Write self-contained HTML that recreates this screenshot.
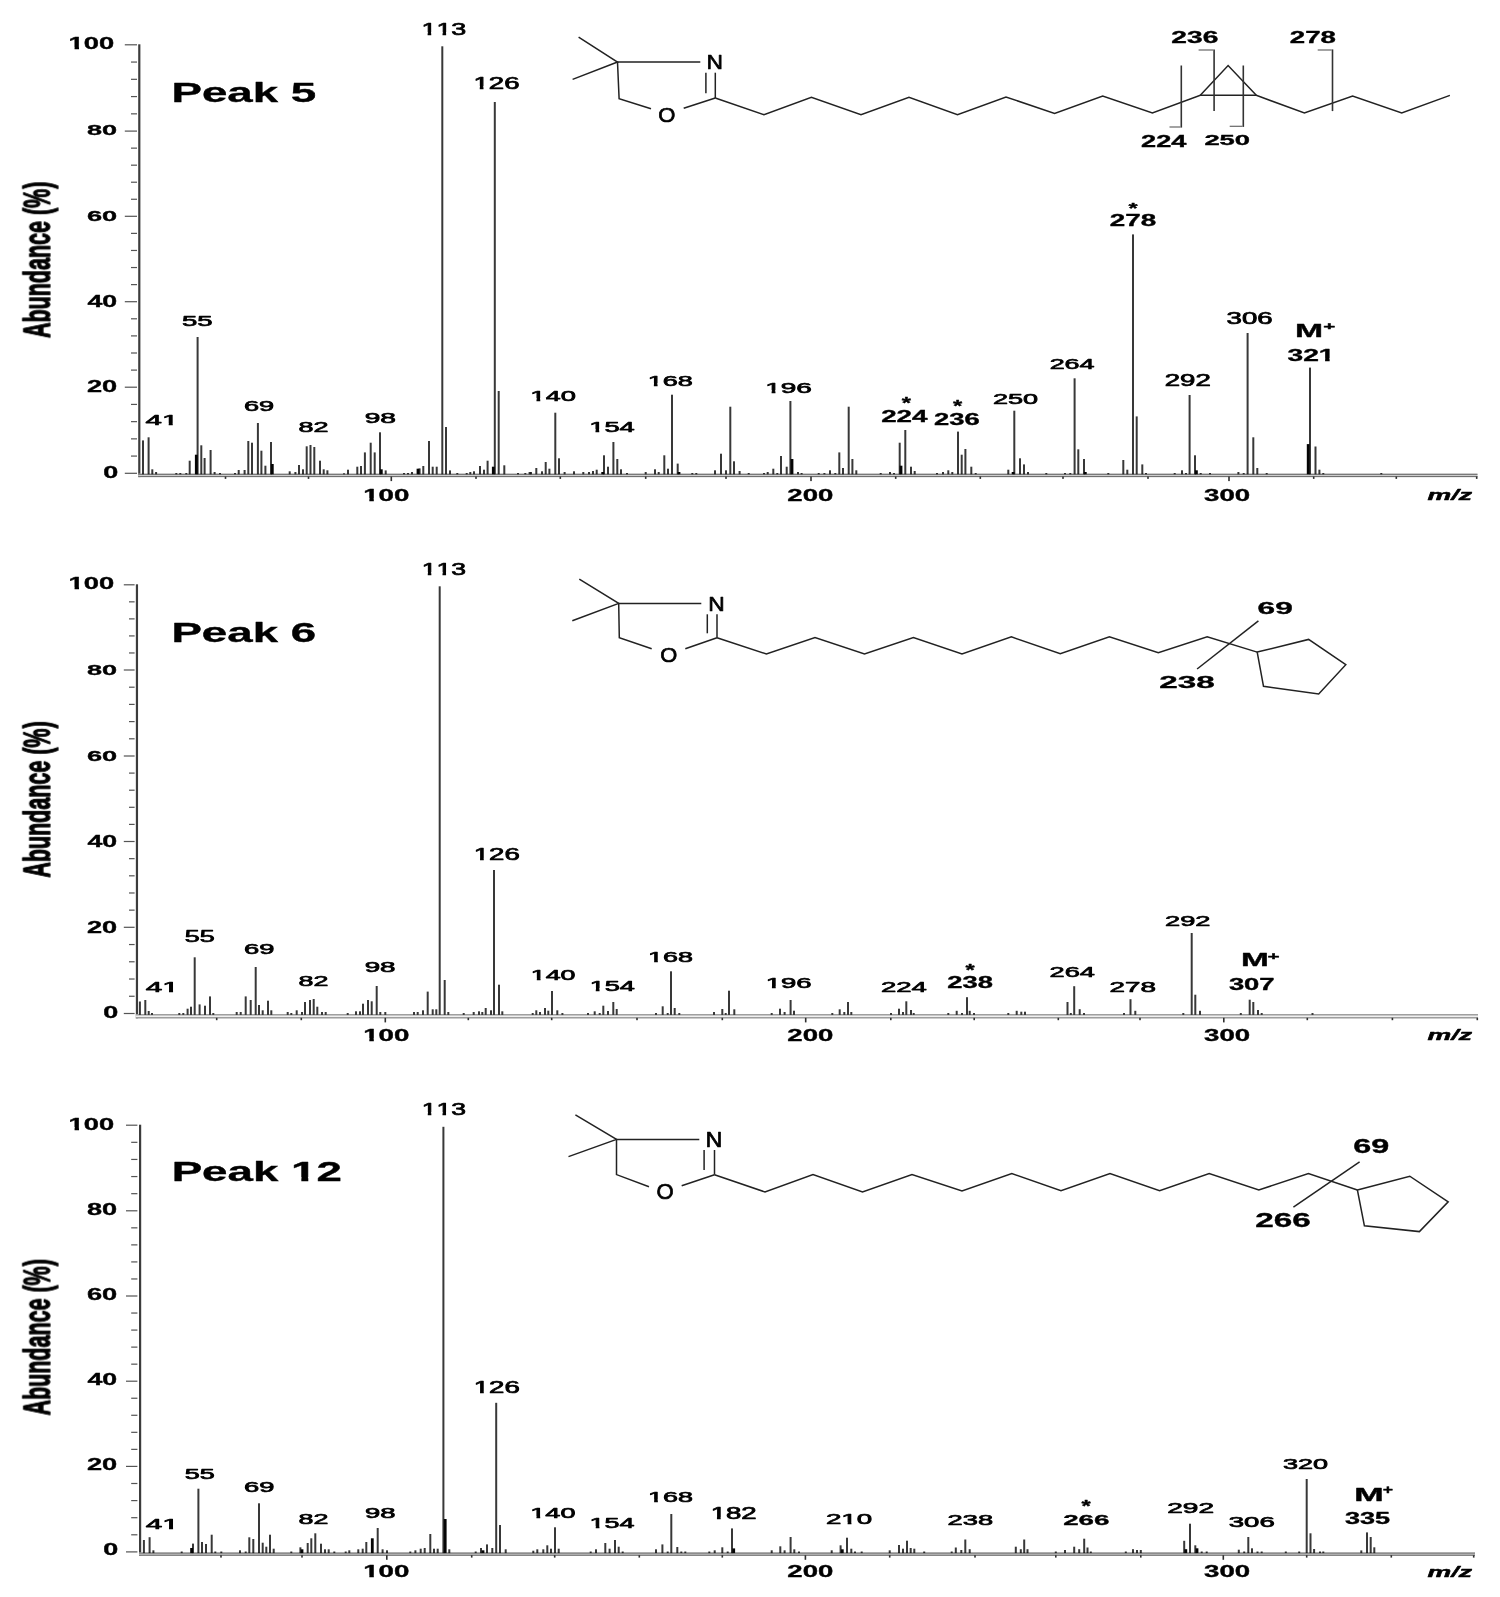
<!DOCTYPE html>
<html><head><meta charset="utf-8"><style>
html,body{margin:0;padding:0;background:#fff;overflow:hidden;width:1500px;height:1597px;}
svg{display:block;}
text{font-family:"Liberation Sans",sans-serif;fill:#000;stroke:#000;stroke-linejoin:round;}
</style></head><body>
<svg width="1500" height="1597" viewBox="0 0 1500 1597">
<rect width="1500" height="1597" fill="#fff"/>
<rect x="124.8" y="44.2" width="12.2" height="1.2" fill="#555"/>
<rect x="131" y="61.46" width="6" height="1.2" fill="#555"/>
<rect x="131" y="78.72" width="6" height="1.2" fill="#555"/>
<rect x="131" y="95.98" width="6" height="1.2" fill="#555"/>
<rect x="131" y="113.24" width="6" height="1.2" fill="#555"/>
<rect x="124.8" y="130.5" width="12.2" height="1.2" fill="#555"/>
<rect x="131" y="147.54" width="6" height="1.2" fill="#555"/>
<rect x="131" y="164.58" width="6" height="1.2" fill="#555"/>
<rect x="131" y="181.62" width="6" height="1.2" fill="#555"/>
<rect x="131" y="198.66" width="6" height="1.2" fill="#555"/>
<rect x="124.8" y="215.7" width="12.2" height="1.2" fill="#555"/>
<rect x="131" y="232.78" width="6" height="1.2" fill="#555"/>
<rect x="131" y="249.86" width="6" height="1.2" fill="#555"/>
<rect x="131" y="266.94" width="6" height="1.2" fill="#555"/>
<rect x="131" y="284.02" width="6" height="1.2" fill="#555"/>
<rect x="124.8" y="301.1" width="12.2" height="1.2" fill="#555"/>
<rect x="131" y="318.2" width="6" height="1.2" fill="#555"/>
<rect x="131" y="335.3" width="6" height="1.2" fill="#555"/>
<rect x="131" y="352.4" width="6" height="1.2" fill="#555"/>
<rect x="131" y="369.5" width="6" height="1.2" fill="#555"/>
<rect x="124.8" y="386.6" width="12.2" height="1.2" fill="#555"/>
<rect x="131" y="403.82" width="6" height="1.2" fill="#555"/>
<rect x="131" y="421.04" width="6" height="1.2" fill="#555"/>
<rect x="131" y="438.26" width="6" height="1.2" fill="#555"/>
<rect x="131" y="455.48" width="6" height="1.2" fill="#555"/>
<rect x="124.8" y="472.7" width="12.2" height="1.2" fill="#555"/>
<rect x="138.2" y="44.3" width="2.2" height="432.8" fill="#3c3c3c"/>
<rect x="138.2" y="473.7" width="1339.3" height="3.4" fill="#d8d8d8"/>
<rect x="138.2" y="473.7" width="1339.3" height="1.2" fill="#707070"/>
<rect x="138.2" y="475.9" width="1339.3" height="1.2" fill="#707070"/>
<rect x="224.7" y="476.5" width="1.6" height="2.4" fill="#303030"/>
<rect x="307.7" y="476.5" width="1.6" height="2.4" fill="#303030"/>
<rect x="390.5" y="476.5" width="1.6" height="4.6" fill="#303030"/>
<rect x="475.2" y="476.5" width="1.6" height="2.4" fill="#303030"/>
<rect x="559.5" y="476.5" width="1.6" height="2.4" fill="#303030"/>
<rect x="644.9" y="476.5" width="1.6" height="2.4" fill="#303030"/>
<rect x="725.2" y="476.5" width="1.6" height="2.4" fill="#303030"/>
<rect x="810.2" y="476.5" width="1.6" height="4.6" fill="#303030"/>
<rect x="894.9" y="476.5" width="1.6" height="2.4" fill="#303030"/>
<rect x="979.5" y="476.5" width="1.6" height="2.4" fill="#303030"/>
<rect x="1062.2" y="476.5" width="1.6" height="2.4" fill="#303030"/>
<rect x="1147.2" y="476.5" width="1.6" height="2.4" fill="#303030"/>
<rect x="1228.2" y="476.5" width="1.6" height="4.6" fill="#303030"/>
<rect x="1312.9" y="476.5" width="1.6" height="2.4" fill="#303030"/>
<rect x="1395.5" y="476.5" width="1.6" height="2.4" fill="#303030"/>
<rect x="1475.9" y="476.5" width="1.6" height="2.4" fill="#303030"/>
<rect x="142" y="440.4" width="2" height="33.9" fill="#000" fill-opacity="0.78"/>
<rect x="147.6" y="437.3" width="2" height="37" fill="#000" fill-opacity="0.78"/>
<rect x="151.3" y="469.3" width="2" height="5" fill="#000" fill-opacity="0.78"/>
<rect x="155.1" y="472" width="2" height="2.3" fill="#000" fill-opacity="0.78"/>
<rect x="175.3" y="473" width="2" height="1.3" fill="#000" fill-opacity="0.78"/>
<rect x="179.3" y="473" width="2" height="1.3" fill="#000" fill-opacity="0.78"/>
<rect x="185.3" y="473" width="2" height="1.3" fill="#000" fill-opacity="0.78"/>
<rect x="188.7" y="460.7" width="2" height="13.6" fill="#000" fill-opacity="0.78"/>
<rect x="194.9" y="454.7" width="2.8" height="19.6" fill="#050505"/>
<rect x="196.6" y="337" width="2" height="137.3" fill="#000" fill-opacity="0.78"/>
<rect x="200.3" y="445.3" width="2" height="29" fill="#000" fill-opacity="0.78"/>
<rect x="203.6" y="458" width="2" height="16.3" fill="#000" fill-opacity="0.78"/>
<rect x="209.6" y="450" width="2" height="24.3" fill="#000" fill-opacity="0.78"/>
<rect x="213.6" y="472" width="2" height="2.3" fill="#000" fill-opacity="0.78"/>
<rect x="219" y="473" width="2" height="1.3" fill="#000" fill-opacity="0.78"/>
<rect x="234" y="473" width="2" height="1.3" fill="#000" fill-opacity="0.78"/>
<rect x="237.7" y="470" width="2" height="4.3" fill="#000" fill-opacity="0.78"/>
<rect x="243.6" y="470" width="2" height="4.3" fill="#000" fill-opacity="0.78"/>
<rect x="247.3" y="441" width="2" height="33.3" fill="#000" fill-opacity="0.78"/>
<rect x="251" y="442.7" width="2" height="31.6" fill="#000" fill-opacity="0.78"/>
<rect x="256.9" y="423" width="2" height="51.3" fill="#000" fill-opacity="0.78"/>
<rect x="260.4" y="450.7" width="2" height="23.6" fill="#000" fill-opacity="0.78"/>
<rect x="264.4" y="465.7" width="2" height="8.6" fill="#000" fill-opacity="0.78"/>
<rect x="270" y="442" width="2" height="32.3" fill="#000" fill-opacity="0.78"/>
<rect x="270.9" y="464" width="2.8" height="10.3" fill="#050505"/>
<rect x="288.7" y="471.3" width="2" height="3" fill="#000" fill-opacity="0.78"/>
<rect x="294.4" y="472" width="2" height="2.3" fill="#000" fill-opacity="0.78"/>
<rect x="298" y="465" width="2" height="9.3" fill="#000" fill-opacity="0.78"/>
<rect x="302" y="469.3" width="2" height="5" fill="#000" fill-opacity="0.78"/>
<rect x="305.7" y="446.3" width="2" height="28" fill="#000" fill-opacity="0.78"/>
<rect x="309.5" y="445" width="2" height="29.3" fill="#000" fill-opacity="0.78"/>
<rect x="313.3" y="447" width="2" height="27.3" fill="#000" fill-opacity="0.78"/>
<rect x="319" y="460.7" width="2" height="13.6" fill="#000" fill-opacity="0.78"/>
<rect x="322.7" y="469.3" width="2" height="5" fill="#000" fill-opacity="0.78"/>
<rect x="326.4" y="470.3" width="2" height="4" fill="#000" fill-opacity="0.78"/>
<rect x="343" y="473.3" width="2" height="1" fill="#000" fill-opacity="0.78"/>
<rect x="347" y="469.7" width="2" height="4.6" fill="#000" fill-opacity="0.78"/>
<rect x="356.3" y="466.7" width="2" height="7.6" fill="#000" fill-opacity="0.78"/>
<rect x="360" y="466" width="2" height="8.3" fill="#000" fill-opacity="0.78"/>
<rect x="363.9" y="452.4" width="2" height="21.9" fill="#000" fill-opacity="0.78"/>
<rect x="369.7" y="442.7" width="2" height="31.6" fill="#000" fill-opacity="0.78"/>
<rect x="373.7" y="452.4" width="2" height="21.9" fill="#000" fill-opacity="0.78"/>
<rect x="379" y="432.3" width="2" height="42" fill="#000" fill-opacity="0.78"/>
<rect x="379.9" y="469.3" width="2.8" height="5" fill="#050505"/>
<rect x="384.7" y="470.4" width="2" height="3.9" fill="#000" fill-opacity="0.78"/>
<rect x="403" y="473" width="2" height="1.3" fill="#000" fill-opacity="0.78"/>
<rect x="407" y="473" width="2" height="1.3" fill="#000" fill-opacity="0.78"/>
<rect x="411" y="472" width="2" height="2.3" fill="#000" fill-opacity="0.78"/>
<rect x="416.6" y="468.7" width="2.8" height="5.6" fill="#050505"/>
<rect x="418.6" y="468.4" width="2" height="5.9" fill="#000" fill-opacity="0.78"/>
<rect x="422.3" y="466" width="2" height="8.3" fill="#000" fill-opacity="0.78"/>
<rect x="428" y="441" width="2" height="33.3" fill="#000" fill-opacity="0.78"/>
<rect x="431.7" y="466.7" width="2" height="7.6" fill="#000" fill-opacity="0.78"/>
<rect x="435.7" y="466.7" width="2" height="7.6" fill="#000" fill-opacity="0.78"/>
<rect x="441.3" y="46.3" width="2" height="428" fill="#000" fill-opacity="0.78"/>
<rect x="445" y="427" width="2" height="47.3" fill="#000" fill-opacity="0.78"/>
<rect x="449" y="470.4" width="2" height="3.9" fill="#000" fill-opacity="0.78"/>
<rect x="456.3" y="473" width="2" height="1.3" fill="#000" fill-opacity="0.78"/>
<rect x="465.7" y="473" width="2" height="1.3" fill="#000" fill-opacity="0.78"/>
<rect x="469.3" y="472" width="2" height="2.3" fill="#000" fill-opacity="0.78"/>
<rect x="473" y="471.3" width="2" height="3" fill="#000" fill-opacity="0.78"/>
<rect x="479" y="466" width="2" height="8.3" fill="#000" fill-opacity="0.78"/>
<rect x="483" y="469.7" width="2" height="4.6" fill="#000" fill-opacity="0.78"/>
<rect x="486.6" y="460.7" width="2" height="13.6" fill="#000" fill-opacity="0.78"/>
<rect x="491.9" y="466.7" width="2.8" height="7.6" fill="#050505"/>
<rect x="493.8" y="102" width="2" height="372.3" fill="#000" fill-opacity="0.78"/>
<rect x="497.7" y="391" width="2" height="83.3" fill="#000" fill-opacity="0.78"/>
<rect x="503.3" y="465.3" width="2" height="9" fill="#000" fill-opacity="0.78"/>
<rect x="517" y="473" width="2" height="1.3" fill="#000" fill-opacity="0.78"/>
<rect x="524.3" y="473" width="2" height="1.3" fill="#000" fill-opacity="0.78"/>
<rect x="528.6" y="472" width="2" height="2.3" fill="#000" fill-opacity="0.78"/>
<rect x="530" y="472" width="2" height="2.3" fill="#000" fill-opacity="0.78"/>
<rect x="535.3" y="468" width="2" height="6.3" fill="#000" fill-opacity="0.78"/>
<rect x="541" y="471.3" width="2" height="3" fill="#000" fill-opacity="0.78"/>
<rect x="544.7" y="462" width="2" height="12.3" fill="#000" fill-opacity="0.78"/>
<rect x="548.4" y="468.7" width="2" height="5.6" fill="#000" fill-opacity="0.78"/>
<rect x="554.3" y="412.7" width="2" height="61.6" fill="#000" fill-opacity="0.78"/>
<rect x="558" y="458.3" width="2" height="16" fill="#000" fill-opacity="0.78"/>
<rect x="563.6" y="472" width="2" height="2.3" fill="#000" fill-opacity="0.78"/>
<rect x="573" y="471.3" width="2" height="3" fill="#000" fill-opacity="0.78"/>
<rect x="582.3" y="472" width="2" height="2.3" fill="#000" fill-opacity="0.78"/>
<rect x="588" y="472" width="2" height="2.3" fill="#000" fill-opacity="0.78"/>
<rect x="592" y="471" width="2" height="3.3" fill="#000" fill-opacity="0.78"/>
<rect x="595.7" y="469.7" width="2" height="4.6" fill="#000" fill-opacity="0.78"/>
<rect x="601.3" y="472" width="2.8" height="2.3" fill="#050505"/>
<rect x="603" y="455.3" width="2" height="19" fill="#000" fill-opacity="0.78"/>
<rect x="607" y="466.7" width="2" height="7.6" fill="#000" fill-opacity="0.78"/>
<rect x="612.4" y="442" width="2" height="32.3" fill="#000" fill-opacity="0.78"/>
<rect x="616.3" y="459" width="2" height="15.3" fill="#000" fill-opacity="0.78"/>
<rect x="620" y="469.3" width="2" height="5" fill="#000" fill-opacity="0.78"/>
<rect x="626" y="473" width="2" height="1.3" fill="#000" fill-opacity="0.78"/>
<rect x="644.7" y="472" width="2" height="2.3" fill="#000" fill-opacity="0.78"/>
<rect x="654" y="469.3" width="2" height="5" fill="#000" fill-opacity="0.78"/>
<rect x="657.7" y="472" width="2" height="2.3" fill="#000" fill-opacity="0.78"/>
<rect x="663.3" y="455.3" width="2" height="19" fill="#000" fill-opacity="0.78"/>
<rect x="667" y="468.7" width="2" height="5.6" fill="#000" fill-opacity="0.78"/>
<rect x="671" y="394.7" width="2" height="79.6" fill="#000" fill-opacity="0.78"/>
<rect x="676.7" y="463.6" width="2" height="10.7" fill="#000" fill-opacity="0.78"/>
<rect x="677.6" y="472" width="2.8" height="2.3" fill="#050505"/>
<rect x="691.3" y="473" width="2" height="1.3" fill="#000" fill-opacity="0.78"/>
<rect x="695.3" y="473" width="2" height="1.3" fill="#000" fill-opacity="0.78"/>
<rect x="714" y="470.3" width="2" height="4" fill="#000" fill-opacity="0.78"/>
<rect x="720" y="453.7" width="2" height="20.6" fill="#000" fill-opacity="0.78"/>
<rect x="725" y="470.3" width="2" height="4" fill="#000" fill-opacity="0.78"/>
<rect x="729.3" y="406.7" width="2" height="67.6" fill="#000" fill-opacity="0.78"/>
<rect x="733" y="461.3" width="2" height="13" fill="#000" fill-opacity="0.78"/>
<rect x="738.6" y="471" width="2" height="3.3" fill="#000" fill-opacity="0.78"/>
<rect x="747.7" y="473" width="2" height="1.3" fill="#000" fill-opacity="0.78"/>
<rect x="763" y="473" width="2" height="1.3" fill="#000" fill-opacity="0.78"/>
<rect x="766.7" y="472" width="2" height="2.3" fill="#000" fill-opacity="0.78"/>
<rect x="772.3" y="468.7" width="2" height="5.6" fill="#000" fill-opacity="0.78"/>
<rect x="776.3" y="473" width="2" height="1.3" fill="#000" fill-opacity="0.78"/>
<rect x="780" y="456" width="2" height="18.3" fill="#000" fill-opacity="0.78"/>
<rect x="785.7" y="466.7" width="2" height="7.6" fill="#000" fill-opacity="0.78"/>
<rect x="789.4" y="401" width="2" height="73.3" fill="#000" fill-opacity="0.78"/>
<rect x="790.6" y="459" width="2.8" height="15.3" fill="#050505"/>
<rect x="797" y="472" width="2" height="2.3" fill="#000" fill-opacity="0.78"/>
<rect x="800.6" y="473" width="2" height="1.3" fill="#000" fill-opacity="0.78"/>
<rect x="817.7" y="473" width="2" height="1.3" fill="#000" fill-opacity="0.78"/>
<rect x="823.4" y="473" width="2" height="1.3" fill="#000" fill-opacity="0.78"/>
<rect x="829" y="470.3" width="2" height="4" fill="#000" fill-opacity="0.78"/>
<rect x="834.3" y="473" width="2" height="1.3" fill="#000" fill-opacity="0.78"/>
<rect x="838.3" y="452.4" width="2" height="21.9" fill="#000" fill-opacity="0.78"/>
<rect x="842" y="468" width="2" height="6.3" fill="#000" fill-opacity="0.78"/>
<rect x="847.7" y="406.7" width="2" height="67.6" fill="#000" fill-opacity="0.78"/>
<rect x="851.4" y="459" width="2" height="15.3" fill="#000" fill-opacity="0.78"/>
<rect x="855.3" y="470.3" width="2" height="4" fill="#000" fill-opacity="0.78"/>
<rect x="879.7" y="473" width="2" height="1.3" fill="#000" fill-opacity="0.78"/>
<rect x="889" y="472" width="2" height="2.3" fill="#000" fill-opacity="0.78"/>
<rect x="893" y="473" width="2" height="1.3" fill="#000" fill-opacity="0.78"/>
<rect x="898.7" y="442.7" width="2" height="31.6" fill="#000" fill-opacity="0.78"/>
<rect x="899.6" y="465.7" width="2.8" height="8.6" fill="#050505"/>
<rect x="904.3" y="430" width="2" height="44.3" fill="#000" fill-opacity="0.78"/>
<rect x="910" y="466.7" width="2" height="7.6" fill="#000" fill-opacity="0.78"/>
<rect x="913.7" y="471" width="2" height="3.3" fill="#000" fill-opacity="0.78"/>
<rect x="936" y="473" width="2" height="1.3" fill="#000" fill-opacity="0.78"/>
<rect x="942" y="472" width="2" height="2.3" fill="#000" fill-opacity="0.78"/>
<rect x="947.3" y="470.3" width="2" height="4" fill="#000" fill-opacity="0.78"/>
<rect x="951.3" y="472" width="2" height="2.3" fill="#000" fill-opacity="0.78"/>
<rect x="957" y="431.6" width="2" height="42.7" fill="#000" fill-opacity="0.78"/>
<rect x="960.7" y="454.7" width="2" height="19.6" fill="#000" fill-opacity="0.78"/>
<rect x="964.4" y="449" width="2" height="25.3" fill="#000" fill-opacity="0.78"/>
<rect x="970.3" y="466.7" width="2" height="7.6" fill="#000" fill-opacity="0.78"/>
<rect x="974.7" y="473" width="2" height="1.3" fill="#000" fill-opacity="0.78"/>
<rect x="1007.3" y="469.7" width="2" height="4.6" fill="#000" fill-opacity="0.78"/>
<rect x="1011.7" y="472" width="2.8" height="2.3" fill="#050505"/>
<rect x="1013.3" y="410.7" width="2" height="63.6" fill="#000" fill-opacity="0.78"/>
<rect x="1019" y="458.3" width="2" height="16" fill="#000" fill-opacity="0.78"/>
<rect x="1023" y="464.4" width="2" height="9.9" fill="#000" fill-opacity="0.78"/>
<rect x="1027" y="472" width="2" height="2.3" fill="#000" fill-opacity="0.78"/>
<rect x="1045.3" y="473" width="2" height="1.3" fill="#000" fill-opacity="0.78"/>
<rect x="1064" y="473" width="2" height="1.3" fill="#000" fill-opacity="0.78"/>
<rect x="1069.3" y="473" width="2" height="1.3" fill="#000" fill-opacity="0.78"/>
<rect x="1073.6" y="378.3" width="2" height="96" fill="#000" fill-opacity="0.78"/>
<rect x="1077.3" y="449.3" width="2" height="25" fill="#000" fill-opacity="0.78"/>
<rect x="1083" y="459" width="2" height="15.3" fill="#000" fill-opacity="0.78"/>
<rect x="1083.9" y="472" width="2.8" height="2.3" fill="#050505"/>
<rect x="1107.3" y="473" width="2" height="1.3" fill="#000" fill-opacity="0.78"/>
<rect x="1122.3" y="460" width="2" height="14.3" fill="#000" fill-opacity="0.78"/>
<rect x="1126.3" y="469.7" width="2" height="4.6" fill="#000" fill-opacity="0.78"/>
<rect x="1132" y="234.4" width="2" height="239.9" fill="#000" fill-opacity="0.78"/>
<rect x="1135.7" y="416.4" width="2" height="57.9" fill="#000" fill-opacity="0.78"/>
<rect x="1141.3" y="464.4" width="2" height="9.9" fill="#000" fill-opacity="0.78"/>
<rect x="1145" y="473" width="2" height="1.3" fill="#000" fill-opacity="0.78"/>
<rect x="1173.7" y="473" width="2" height="1.3" fill="#000" fill-opacity="0.78"/>
<rect x="1181" y="470.3" width="2" height="4" fill="#000" fill-opacity="0.78"/>
<rect x="1185" y="473" width="2" height="1.3" fill="#000" fill-opacity="0.78"/>
<rect x="1188.6" y="395" width="2" height="79.3" fill="#000" fill-opacity="0.78"/>
<rect x="1194" y="455.3" width="2" height="19" fill="#000" fill-opacity="0.78"/>
<rect x="1195" y="470.3" width="2.8" height="4" fill="#050505"/>
<rect x="1199.7" y="473" width="2" height="1.3" fill="#000" fill-opacity="0.78"/>
<rect x="1209" y="473" width="2" height="1.3" fill="#000" fill-opacity="0.78"/>
<rect x="1237.4" y="472" width="2" height="2.3" fill="#000" fill-opacity="0.78"/>
<rect x="1242.7" y="473" width="2" height="1.3" fill="#000" fill-opacity="0.78"/>
<rect x="1246.6" y="333" width="2" height="141.3" fill="#000" fill-opacity="0.78"/>
<rect x="1252.3" y="437.3" width="2" height="37" fill="#000" fill-opacity="0.78"/>
<rect x="1256.3" y="468" width="2" height="6.3" fill="#000" fill-opacity="0.78"/>
<rect x="1265.7" y="473" width="2" height="1.3" fill="#000" fill-opacity="0.78"/>
<rect x="1306.8" y="444.1" width="2.8" height="30.2" fill="#050505"/>
<rect x="1309" y="367.6" width="2" height="106.7" fill="#000" fill-opacity="0.78"/>
<rect x="1314.5" y="446.5" width="2" height="27.8" fill="#000" fill-opacity="0.78"/>
<rect x="1318.4" y="469.7" width="2" height="4.6" fill="#000" fill-opacity="0.78"/>
<rect x="1322.3" y="473" width="2" height="1.3" fill="#000" fill-opacity="0.78"/>
<rect x="1380.3" y="473" width="2" height="1.3" fill="#000" fill-opacity="0.78"/>
<rect x="123.8" y="584.2" width="10.8" height="1.2" fill="#555"/>
<rect x="129" y="601.24" width="5.6" height="1.2" fill="#555"/>
<rect x="129" y="618.28" width="5.6" height="1.2" fill="#555"/>
<rect x="129" y="635.32" width="5.6" height="1.2" fill="#555"/>
<rect x="129" y="652.36" width="5.6" height="1.2" fill="#555"/>
<rect x="123.8" y="669.4" width="10.8" height="1.2" fill="#555"/>
<rect x="129" y="686.6" width="5.6" height="1.2" fill="#555"/>
<rect x="129" y="703.8" width="5.6" height="1.2" fill="#555"/>
<rect x="129" y="721" width="5.6" height="1.2" fill="#555"/>
<rect x="129" y="738.2" width="5.6" height="1.2" fill="#555"/>
<rect x="123.8" y="755.4" width="10.8" height="1.2" fill="#555"/>
<rect x="129" y="772.5" width="5.6" height="1.2" fill="#555"/>
<rect x="129" y="789.6" width="5.6" height="1.2" fill="#555"/>
<rect x="129" y="806.7" width="5.6" height="1.2" fill="#555"/>
<rect x="129" y="823.8" width="5.6" height="1.2" fill="#555"/>
<rect x="123.8" y="840.9" width="10.8" height="1.2" fill="#555"/>
<rect x="129" y="858.06" width="5.6" height="1.2" fill="#555"/>
<rect x="129" y="875.22" width="5.6" height="1.2" fill="#555"/>
<rect x="129" y="892.38" width="5.6" height="1.2" fill="#555"/>
<rect x="129" y="909.54" width="5.6" height="1.2" fill="#555"/>
<rect x="123.8" y="926.7" width="10.8" height="1.2" fill="#555"/>
<rect x="129" y="943.94" width="5.6" height="1.2" fill="#555"/>
<rect x="129" y="961.18" width="5.6" height="1.2" fill="#555"/>
<rect x="129" y="978.42" width="5.6" height="1.2" fill="#555"/>
<rect x="129" y="995.66" width="5.6" height="1.2" fill="#555"/>
<rect x="123.8" y="1012.9" width="10.8" height="1.2" fill="#555"/>
<rect x="135.85" y="584.3" width="2.2" height="434.1" fill="#3c3c3c"/>
<rect x="135.85" y="1014.2" width="1342.15" height="4.2" fill="#f0f0f0"/>
<rect x="135.85" y="1014.2" width="1342.15" height="1.2" fill="#8a8a8a"/>
<rect x="135.85" y="1017.2" width="1342.15" height="1.2" fill="#8a8a8a"/>
<rect x="215.9" y="1017.8" width="1.6" height="2.4" fill="#303030"/>
<rect x="300.5" y="1017.8" width="1.6" height="2.4" fill="#303030"/>
<rect x="384.5" y="1017.8" width="1.6" height="4.6" fill="#303030"/>
<rect x="467.5" y="1017.8" width="1.6" height="2.4" fill="#303030"/>
<rect x="550.9" y="1017.8" width="1.6" height="2.4" fill="#303030"/>
<rect x="636.2" y="1017.8" width="1.6" height="2.4" fill="#303030"/>
<rect x="721.5" y="1017.8" width="1.6" height="2.4" fill="#303030"/>
<rect x="804.9" y="1017.8" width="1.6" height="4.6" fill="#303030"/>
<rect x="890" y="1017.8" width="1.6" height="2.4" fill="#303030"/>
<rect x="973.4" y="1017.8" width="1.6" height="2.4" fill="#303030"/>
<rect x="1057.5" y="1017.8" width="1.6" height="2.4" fill="#303030"/>
<rect x="1139.2" y="1017.8" width="1.6" height="2.4" fill="#303030"/>
<rect x="1223" y="1017.8" width="1.6" height="4.6" fill="#303030"/>
<rect x="1306.5" y="1017.8" width="1.6" height="2.4" fill="#303030"/>
<rect x="1391.6" y="1017.8" width="1.6" height="2.4" fill="#303030"/>
<rect x="1476.5" y="1017.8" width="1.6" height="2.4" fill="#303030"/>
<rect x="138.9" y="1001.5" width="2" height="13.3" fill="#000" fill-opacity="0.78"/>
<rect x="144.3" y="1000" width="2" height="14.8" fill="#000" fill-opacity="0.78"/>
<rect x="147.7" y="1011" width="2" height="3.8" fill="#000" fill-opacity="0.78"/>
<rect x="151" y="1013" width="2" height="1.8" fill="#000" fill-opacity="0.78"/>
<rect x="178.3" y="1013" width="2" height="1.8" fill="#000" fill-opacity="0.78"/>
<rect x="182.3" y="1013" width="2" height="1.8" fill="#000" fill-opacity="0.78"/>
<rect x="186.6" y="1008.7" width="2" height="6.1" fill="#000" fill-opacity="0.78"/>
<rect x="190" y="1006.7" width="2" height="8.1" fill="#000" fill-opacity="0.78"/>
<rect x="193.7" y="957.3" width="2" height="57.5" fill="#000" fill-opacity="0.78"/>
<rect x="198.6" y="1004.4" width="2" height="10.4" fill="#000" fill-opacity="0.78"/>
<rect x="204" y="1005.7" width="2" height="9.1" fill="#000" fill-opacity="0.78"/>
<rect x="209" y="996.4" width="2" height="18.4" fill="#000" fill-opacity="0.78"/>
<rect x="212.3" y="1013" width="2" height="1.8" fill="#000" fill-opacity="0.78"/>
<rect x="235.7" y="1012" width="2" height="2.8" fill="#000" fill-opacity="0.78"/>
<rect x="239.7" y="1012" width="2" height="2.8" fill="#000" fill-opacity="0.78"/>
<rect x="244.7" y="996.4" width="2" height="18.4" fill="#000" fill-opacity="0.78"/>
<rect x="249.7" y="1000" width="2" height="14.8" fill="#000" fill-opacity="0.78"/>
<rect x="254.7" y="967" width="2" height="47.8" fill="#000" fill-opacity="0.78"/>
<rect x="258" y="1005" width="2" height="9.8" fill="#000" fill-opacity="0.78"/>
<rect x="261.7" y="1010.3" width="2" height="4.5" fill="#000" fill-opacity="0.78"/>
<rect x="267" y="1000.7" width="2" height="14.1" fill="#000" fill-opacity="0.78"/>
<rect x="270.3" y="1010.3" width="2" height="4.5" fill="#000" fill-opacity="0.78"/>
<rect x="286.7" y="1012" width="2" height="2.8" fill="#000" fill-opacity="0.78"/>
<rect x="290.3" y="1013" width="2" height="1.8" fill="#000" fill-opacity="0.78"/>
<rect x="295.7" y="1010.3" width="2" height="4.5" fill="#000" fill-opacity="0.78"/>
<rect x="301" y="1012" width="2" height="2.8" fill="#000" fill-opacity="0.78"/>
<rect x="304" y="1002" width="2" height="12.8" fill="#000" fill-opacity="0.78"/>
<rect x="309" y="1000" width="2" height="14.8" fill="#000" fill-opacity="0.78"/>
<rect x="312.7" y="999" width="2" height="15.8" fill="#000" fill-opacity="0.78"/>
<rect x="316.3" y="1006.7" width="2" height="8.1" fill="#000" fill-opacity="0.78"/>
<rect x="321" y="1012" width="2" height="2.8" fill="#000" fill-opacity="0.78"/>
<rect x="324.7" y="1012" width="2" height="2.8" fill="#000" fill-opacity="0.78"/>
<rect x="346.7" y="1013" width="2" height="1.8" fill="#000" fill-opacity="0.78"/>
<rect x="355" y="1011.3" width="2" height="3.5" fill="#000" fill-opacity="0.78"/>
<rect x="359" y="1011.3" width="2" height="3.5" fill="#000" fill-opacity="0.78"/>
<rect x="362" y="1003.7" width="2" height="11.1" fill="#000" fill-opacity="0.78"/>
<rect x="367" y="1000" width="2" height="14.8" fill="#000" fill-opacity="0.78"/>
<rect x="370.7" y="1001.3" width="2" height="13.5" fill="#000" fill-opacity="0.78"/>
<rect x="375.7" y="986" width="2" height="28.8" fill="#000" fill-opacity="0.78"/>
<rect x="379.3" y="1012" width="2" height="2.8" fill="#000" fill-opacity="0.78"/>
<rect x="384.3" y="1012" width="2" height="2.8" fill="#000" fill-opacity="0.78"/>
<rect x="413" y="1012" width="2" height="2.8" fill="#000" fill-opacity="0.78"/>
<rect x="416.7" y="1012" width="2" height="2.8" fill="#000" fill-opacity="0.78"/>
<rect x="422" y="1010.3" width="2" height="4.5" fill="#000" fill-opacity="0.78"/>
<rect x="426.7" y="991.6" width="2" height="23.2" fill="#000" fill-opacity="0.78"/>
<rect x="431.7" y="1009.3" width="2" height="5.5" fill="#000" fill-opacity="0.78"/>
<rect x="435.3" y="1009.3" width="2" height="5.5" fill="#000" fill-opacity="0.78"/>
<rect x="438.7" y="586.3" width="2" height="428.5" fill="#000" fill-opacity="0.78"/>
<rect x="443.7" y="980" width="2" height="34.8" fill="#000" fill-opacity="0.78"/>
<rect x="447.3" y="1012" width="2" height="2.8" fill="#000" fill-opacity="0.78"/>
<rect x="462.7" y="1013" width="2" height="1.8" fill="#000" fill-opacity="0.78"/>
<rect x="472.7" y="1012" width="2" height="2.8" fill="#000" fill-opacity="0.78"/>
<rect x="478" y="1011.3" width="2" height="3.5" fill="#000" fill-opacity="0.78"/>
<rect x="481.3" y="1012" width="2" height="2.8" fill="#000" fill-opacity="0.78"/>
<rect x="484.7" y="1008" width="2" height="6.8" fill="#000" fill-opacity="0.78"/>
<rect x="490" y="1010.3" width="2" height="4.5" fill="#000" fill-opacity="0.78"/>
<rect x="493" y="870" width="2" height="144.8" fill="#000" fill-opacity="0.78"/>
<rect x="498" y="984.7" width="2" height="30.1" fill="#000" fill-opacity="0.78"/>
<rect x="501.3" y="1011.3" width="2" height="3.5" fill="#000" fill-opacity="0.78"/>
<rect x="531.7" y="1013" width="2" height="1.8" fill="#000" fill-opacity="0.78"/>
<rect x="535.3" y="1010.3" width="2" height="4.5" fill="#000" fill-opacity="0.78"/>
<rect x="539" y="1012" width="2" height="2.8" fill="#000" fill-opacity="0.78"/>
<rect x="544" y="1008" width="2" height="6.8" fill="#000" fill-opacity="0.78"/>
<rect x="547.3" y="1010.7" width="2" height="4.1" fill="#000" fill-opacity="0.78"/>
<rect x="551" y="991" width="2" height="23.8" fill="#000" fill-opacity="0.78"/>
<rect x="556.3" y="1010.3" width="2" height="4.5" fill="#000" fill-opacity="0.78"/>
<rect x="561.4" y="1013" width="2" height="1.8" fill="#000" fill-opacity="0.78"/>
<rect x="587" y="1013" width="2" height="1.8" fill="#000" fill-opacity="0.78"/>
<rect x="593.7" y="1011.3" width="2" height="3.5" fill="#000" fill-opacity="0.78"/>
<rect x="598.7" y="1013" width="2" height="1.8" fill="#000" fill-opacity="0.78"/>
<rect x="602.3" y="1005.7" width="2" height="9.1" fill="#000" fill-opacity="0.78"/>
<rect x="607" y="1011" width="2" height="3.8" fill="#000" fill-opacity="0.78"/>
<rect x="612.3" y="1002" width="2" height="12.8" fill="#000" fill-opacity="0.78"/>
<rect x="615.7" y="1009" width="2" height="5.8" fill="#000" fill-opacity="0.78"/>
<rect x="655" y="1013" width="2" height="1.8" fill="#000" fill-opacity="0.78"/>
<rect x="661.7" y="1006.3" width="2" height="8.5" fill="#000" fill-opacity="0.78"/>
<rect x="666.7" y="1013" width="2" height="1.8" fill="#000" fill-opacity="0.78"/>
<rect x="670" y="971.3" width="2" height="43.5" fill="#000" fill-opacity="0.78"/>
<rect x="673.7" y="1008" width="2" height="6.8" fill="#000" fill-opacity="0.78"/>
<rect x="678.3" y="1013" width="2" height="1.8" fill="#000" fill-opacity="0.78"/>
<rect x="713" y="1012" width="2" height="2.8" fill="#000" fill-opacity="0.78"/>
<rect x="721.3" y="1009" width="2" height="5.8" fill="#000" fill-opacity="0.78"/>
<rect x="724.7" y="1013" width="2" height="1.8" fill="#000" fill-opacity="0.78"/>
<rect x="728" y="990.7" width="2" height="24.1" fill="#000" fill-opacity="0.78"/>
<rect x="733.3" y="1009.3" width="2" height="5.5" fill="#000" fill-opacity="0.78"/>
<rect x="770.7" y="1013" width="2" height="1.8" fill="#000" fill-opacity="0.78"/>
<rect x="779" y="1008.7" width="2" height="6.1" fill="#000" fill-opacity="0.78"/>
<rect x="783.6" y="1012" width="2" height="2.8" fill="#000" fill-opacity="0.78"/>
<rect x="789.6" y="1000" width="2" height="14.8" fill="#000" fill-opacity="0.78"/>
<rect x="793" y="1010.7" width="2" height="4.1" fill="#000" fill-opacity="0.78"/>
<rect x="831.3" y="1013" width="2" height="1.8" fill="#000" fill-opacity="0.78"/>
<rect x="838.7" y="1009.3" width="2" height="5.5" fill="#000" fill-opacity="0.78"/>
<rect x="843.3" y="1012" width="2" height="2.8" fill="#000" fill-opacity="0.78"/>
<rect x="847" y="1002" width="2" height="12.8" fill="#000" fill-opacity="0.78"/>
<rect x="850.3" y="1012" width="2" height="2.8" fill="#000" fill-opacity="0.78"/>
<rect x="890" y="1013" width="2" height="1.8" fill="#000" fill-opacity="0.78"/>
<rect x="898" y="1008.7" width="2" height="6.1" fill="#000" fill-opacity="0.78"/>
<rect x="902" y="1012" width="2" height="2.8" fill="#000" fill-opacity="0.78"/>
<rect x="905.3" y="1001.3" width="2" height="13.5" fill="#000" fill-opacity="0.78"/>
<rect x="910" y="1010" width="2" height="4.8" fill="#000" fill-opacity="0.78"/>
<rect x="912.7" y="1013" width="2" height="1.8" fill="#000" fill-opacity="0.78"/>
<rect x="947.3" y="1013" width="2" height="1.8" fill="#000" fill-opacity="0.78"/>
<rect x="955.7" y="1010.8" width="2" height="4" fill="#000" fill-opacity="0.78"/>
<rect x="961" y="1013" width="2" height="1.8" fill="#000" fill-opacity="0.78"/>
<rect x="966" y="997.2" width="2" height="17.6" fill="#000" fill-opacity="0.78"/>
<rect x="968.7" y="1010.8" width="2" height="4" fill="#000" fill-opacity="0.78"/>
<rect x="973" y="1013" width="2" height="1.8" fill="#000" fill-opacity="0.78"/>
<rect x="1007.3" y="1013" width="2" height="1.8" fill="#000" fill-opacity="0.78"/>
<rect x="1015.7" y="1010.8" width="2" height="4" fill="#000" fill-opacity="0.78"/>
<rect x="1020.3" y="1011.7" width="2" height="3.1" fill="#000" fill-opacity="0.78"/>
<rect x="1024" y="1011.7" width="2" height="3.1" fill="#000" fill-opacity="0.78"/>
<rect x="1066.5" y="1002" width="2" height="12.8" fill="#000" fill-opacity="0.78"/>
<rect x="1069.8" y="1013" width="2" height="1.8" fill="#000" fill-opacity="0.78"/>
<rect x="1073.2" y="986.2" width="2" height="28.6" fill="#000" fill-opacity="0.78"/>
<rect x="1078.7" y="1009.2" width="2" height="5.6" fill="#000" fill-opacity="0.78"/>
<rect x="1083" y="1013" width="2" height="1.8" fill="#000" fill-opacity="0.78"/>
<rect x="1123" y="1013" width="2" height="1.8" fill="#000" fill-opacity="0.78"/>
<rect x="1129.5" y="999.2" width="2" height="15.6" fill="#000" fill-opacity="0.78"/>
<rect x="1134.3" y="1010.8" width="2" height="4" fill="#000" fill-opacity="0.78"/>
<rect x="1182.3" y="1013" width="2" height="1.8" fill="#000" fill-opacity="0.78"/>
<rect x="1190.7" y="933" width="2" height="81.8" fill="#000" fill-opacity="0.78"/>
<rect x="1194.3" y="994.7" width="2" height="20.1" fill="#000" fill-opacity="0.78"/>
<rect x="1199" y="1010.8" width="2" height="4" fill="#000" fill-opacity="0.78"/>
<rect x="1239.8" y="1013" width="2" height="1.8" fill="#000" fill-opacity="0.78"/>
<rect x="1248.7" y="999.7" width="2" height="15.1" fill="#000" fill-opacity="0.78"/>
<rect x="1252.3" y="1002" width="2" height="12.8" fill="#000" fill-opacity="0.78"/>
<rect x="1257" y="1010" width="2" height="4.8" fill="#000" fill-opacity="0.78"/>
<rect x="1260.7" y="1013" width="2" height="1.8" fill="#000" fill-opacity="0.78"/>
<rect x="1311.5" y="1013" width="2" height="1.8" fill="#000" fill-opacity="0.78"/>
<rect x="126" y="1124.6" width="11.4" height="1.2" fill="#555"/>
<rect x="131.2" y="1141.72" width="6.2" height="1.2" fill="#555"/>
<rect x="131.2" y="1158.84" width="6.2" height="1.2" fill="#555"/>
<rect x="131.2" y="1175.96" width="6.2" height="1.2" fill="#555"/>
<rect x="131.2" y="1193.08" width="6.2" height="1.2" fill="#555"/>
<rect x="126" y="1210.2" width="11.4" height="1.2" fill="#555"/>
<rect x="131.2" y="1227.24" width="6.2" height="1.2" fill="#555"/>
<rect x="131.2" y="1244.28" width="6.2" height="1.2" fill="#555"/>
<rect x="131.2" y="1261.32" width="6.2" height="1.2" fill="#555"/>
<rect x="131.2" y="1278.36" width="6.2" height="1.2" fill="#555"/>
<rect x="126" y="1295.4" width="11.4" height="1.2" fill="#555"/>
<rect x="131.2" y="1312.44" width="6.2" height="1.2" fill="#555"/>
<rect x="131.2" y="1329.48" width="6.2" height="1.2" fill="#555"/>
<rect x="131.2" y="1346.52" width="6.2" height="1.2" fill="#555"/>
<rect x="131.2" y="1363.56" width="6.2" height="1.2" fill="#555"/>
<rect x="126" y="1380.6" width="11.4" height="1.2" fill="#555"/>
<rect x="131.2" y="1397.64" width="6.2" height="1.2" fill="#555"/>
<rect x="131.2" y="1414.68" width="6.2" height="1.2" fill="#555"/>
<rect x="131.2" y="1431.72" width="6.2" height="1.2" fill="#555"/>
<rect x="131.2" y="1448.76" width="6.2" height="1.2" fill="#555"/>
<rect x="126" y="1465.8" width="11.4" height="1.2" fill="#555"/>
<rect x="131.2" y="1482.9" width="6.2" height="1.2" fill="#555"/>
<rect x="131.2" y="1500" width="6.2" height="1.2" fill="#555"/>
<rect x="131.2" y="1517.1" width="6.2" height="1.2" fill="#555"/>
<rect x="131.2" y="1534.2" width="6.2" height="1.2" fill="#555"/>
<rect x="126" y="1551.3" width="11.4" height="1.2" fill="#555"/>
<rect x="139" y="1124.7" width="2.2" height="431.1" fill="#3c3c3c"/>
<rect x="139" y="1552.5" width="1336" height="3.3" fill="#d8d8d8"/>
<rect x="139" y="1552.5" width="1336" height="1.2" fill="#707070"/>
<rect x="139" y="1554.6" width="1336" height="1.2" fill="#707070"/>
<rect x="220.2" y="1555.2" width="1.6" height="2.4" fill="#303030"/>
<rect x="301.2" y="1555.2" width="1.6" height="2.4" fill="#303030"/>
<rect x="386" y="1555.2" width="1.6" height="4.6" fill="#303030"/>
<rect x="470.9" y="1555.2" width="1.6" height="2.4" fill="#303030"/>
<rect x="553.9" y="1555.2" width="1.6" height="2.4" fill="#303030"/>
<rect x="638.5" y="1555.2" width="1.6" height="2.4" fill="#303030"/>
<rect x="721.5" y="1555.2" width="1.6" height="2.4" fill="#303030"/>
<rect x="804.6" y="1555.2" width="1.6" height="4.6" fill="#303030"/>
<rect x="888.9" y="1555.2" width="1.6" height="2.4" fill="#303030"/>
<rect x="974.2" y="1555.2" width="1.6" height="2.4" fill="#303030"/>
<rect x="1055" y="1555.2" width="1.6" height="2.4" fill="#303030"/>
<rect x="1140" y="1555.2" width="1.6" height="2.4" fill="#303030"/>
<rect x="1222.5" y="1555.2" width="1.6" height="4.6" fill="#303030"/>
<rect x="1305.9" y="1555.2" width="1.6" height="2.4" fill="#303030"/>
<rect x="1390.5" y="1555.2" width="1.6" height="2.4" fill="#303030"/>
<rect x="1472.9" y="1555.2" width="1.6" height="2.4" fill="#303030"/>
<rect x="142.9" y="1540" width="2" height="13.1" fill="#000" fill-opacity="0.78"/>
<rect x="148.6" y="1537.2" width="2" height="15.9" fill="#000" fill-opacity="0.78"/>
<rect x="152.4" y="1550.3" width="2" height="2.8" fill="#000" fill-opacity="0.78"/>
<rect x="180.7" y="1551.5" width="2" height="1.6" fill="#000" fill-opacity="0.78"/>
<rect x="190.2" y="1548" width="2.8" height="5.1" fill="#050505"/>
<rect x="192" y="1543.6" width="2" height="9.5" fill="#000" fill-opacity="0.78"/>
<rect x="197.4" y="1488.7" width="2" height="64.4" fill="#000" fill-opacity="0.78"/>
<rect x="201" y="1542" width="2" height="11.1" fill="#000" fill-opacity="0.78"/>
<rect x="205" y="1544" width="2" height="9.1" fill="#000" fill-opacity="0.78"/>
<rect x="210.7" y="1534.7" width="2" height="18.4" fill="#000" fill-opacity="0.78"/>
<rect x="214.3" y="1551.5" width="2" height="1.6" fill="#000" fill-opacity="0.78"/>
<rect x="220.3" y="1551.5" width="2" height="1.6" fill="#000" fill-opacity="0.78"/>
<rect x="239" y="1550.3" width="2" height="2.8" fill="#000" fill-opacity="0.78"/>
<rect x="244.7" y="1551.5" width="2" height="1.6" fill="#000" fill-opacity="0.78"/>
<rect x="248.3" y="1537.3" width="2" height="15.8" fill="#000" fill-opacity="0.78"/>
<rect x="252.3" y="1539" width="2" height="14.1" fill="#000" fill-opacity="0.78"/>
<rect x="258" y="1503.3" width="2" height="49.8" fill="#000" fill-opacity="0.78"/>
<rect x="261.7" y="1542.7" width="2" height="10.4" fill="#000" fill-opacity="0.78"/>
<rect x="265.3" y="1546.7" width="2" height="6.4" fill="#000" fill-opacity="0.78"/>
<rect x="269" y="1534.7" width="2" height="18.4" fill="#000" fill-opacity="0.78"/>
<rect x="272.7" y="1548.7" width="2" height="4.4" fill="#000" fill-opacity="0.78"/>
<rect x="290.3" y="1551.5" width="2" height="1.6" fill="#000" fill-opacity="0.78"/>
<rect x="299.4" y="1547.3" width="2" height="5.8" fill="#000" fill-opacity="0.78"/>
<rect x="300.6" y="1549.3" width="2.8" height="3.8" fill="#050505"/>
<rect x="306.7" y="1543" width="2" height="10.1" fill="#000" fill-opacity="0.78"/>
<rect x="310.3" y="1538.3" width="2" height="14.8" fill="#000" fill-opacity="0.78"/>
<rect x="314.3" y="1533.3" width="2" height="19.8" fill="#000" fill-opacity="0.78"/>
<rect x="320" y="1543.7" width="2" height="9.4" fill="#000" fill-opacity="0.78"/>
<rect x="324" y="1549.3" width="2" height="3.8" fill="#000" fill-opacity="0.78"/>
<rect x="327.7" y="1549.3" width="2" height="3.8" fill="#000" fill-opacity="0.78"/>
<rect x="333.3" y="1551.5" width="2" height="1.6" fill="#000" fill-opacity="0.78"/>
<rect x="344.7" y="1551.5" width="2" height="1.6" fill="#000" fill-opacity="0.78"/>
<rect x="348.3" y="1550.3" width="2" height="2.8" fill="#000" fill-opacity="0.78"/>
<rect x="357.3" y="1549.3" width="2" height="3.8" fill="#000" fill-opacity="0.78"/>
<rect x="361.7" y="1548.7" width="2" height="4.4" fill="#000" fill-opacity="0.78"/>
<rect x="365.3" y="1542" width="2" height="11.1" fill="#000" fill-opacity="0.78"/>
<rect x="370.9" y="1538.3" width="2.8" height="14.8" fill="#050505"/>
<rect x="376.7" y="1528" width="2" height="25.1" fill="#000" fill-opacity="0.78"/>
<rect x="381.6" y="1549.3" width="2" height="3.8" fill="#000" fill-opacity="0.78"/>
<rect x="386" y="1550.3" width="2" height="2.8" fill="#000" fill-opacity="0.78"/>
<rect x="409.3" y="1551.5" width="2" height="1.6" fill="#000" fill-opacity="0.78"/>
<rect x="414.4" y="1550.3" width="2" height="2.8" fill="#000" fill-opacity="0.78"/>
<rect x="419.7" y="1548.7" width="2" height="4.4" fill="#000" fill-opacity="0.78"/>
<rect x="423.7" y="1548" width="2" height="5.1" fill="#000" fill-opacity="0.78"/>
<rect x="429.3" y="1534" width="2" height="19.1" fill="#000" fill-opacity="0.78"/>
<rect x="433" y="1548.7" width="2" height="4.4" fill="#000" fill-opacity="0.78"/>
<rect x="436.7" y="1548.7" width="2" height="4.4" fill="#000" fill-opacity="0.78"/>
<rect x="442.4" y="1126.8" width="2" height="426.3" fill="#000" fill-opacity="0.78"/>
<rect x="443.8" y="1519" width="2.8" height="34.1" fill="#050505"/>
<rect x="448.3" y="1549.3" width="2" height="3.8" fill="#000" fill-opacity="0.78"/>
<rect x="474.7" y="1551.5" width="2" height="1.6" fill="#000" fill-opacity="0.78"/>
<rect x="480" y="1548" width="2" height="5.1" fill="#000" fill-opacity="0.78"/>
<rect x="481.6" y="1550.3" width="2.8" height="2.8" fill="#050505"/>
<rect x="486" y="1544.4" width="2" height="8.7" fill="#000" fill-opacity="0.78"/>
<rect x="491.3" y="1548" width="2" height="5.1" fill="#000" fill-opacity="0.78"/>
<rect x="495.2" y="1402.8" width="2" height="150.3" fill="#000" fill-opacity="0.78"/>
<rect x="499" y="1525" width="2" height="28.1" fill="#000" fill-opacity="0.78"/>
<rect x="504.7" y="1549.3" width="2" height="3.8" fill="#000" fill-opacity="0.78"/>
<rect x="532.3" y="1550.7" width="2" height="2.4" fill="#000" fill-opacity="0.78"/>
<rect x="536.3" y="1549.3" width="2" height="3.8" fill="#000" fill-opacity="0.78"/>
<rect x="542.3" y="1549.3" width="2" height="3.8" fill="#000" fill-opacity="0.78"/>
<rect x="546.3" y="1545.3" width="2" height="7.8" fill="#000" fill-opacity="0.78"/>
<rect x="550" y="1548.7" width="2" height="4.4" fill="#000" fill-opacity="0.78"/>
<rect x="554" y="1527.3" width="2" height="25.8" fill="#000" fill-opacity="0.78"/>
<rect x="557.7" y="1548.7" width="2" height="4.4" fill="#000" fill-opacity="0.78"/>
<rect x="589.7" y="1551.5" width="2" height="1.6" fill="#000" fill-opacity="0.78"/>
<rect x="595" y="1549.3" width="2" height="3.8" fill="#000" fill-opacity="0.78"/>
<rect x="604.3" y="1543" width="2" height="10.1" fill="#000" fill-opacity="0.78"/>
<rect x="608.6" y="1548.7" width="2" height="4.4" fill="#000" fill-opacity="0.78"/>
<rect x="614" y="1540" width="2" height="13.1" fill="#000" fill-opacity="0.78"/>
<rect x="617.7" y="1546.7" width="2" height="6.4" fill="#000" fill-opacity="0.78"/>
<rect x="621.7" y="1551.5" width="2" height="1.6" fill="#000" fill-opacity="0.78"/>
<rect x="655" y="1549.3" width="2" height="3.8" fill="#000" fill-opacity="0.78"/>
<rect x="661.4" y="1544.4" width="2" height="8.7" fill="#000" fill-opacity="0.78"/>
<rect x="666.7" y="1551.5" width="2" height="1.6" fill="#000" fill-opacity="0.78"/>
<rect x="670.3" y="1514" width="2" height="39.1" fill="#000" fill-opacity="0.78"/>
<rect x="676.3" y="1547" width="2" height="6.1" fill="#000" fill-opacity="0.78"/>
<rect x="680.3" y="1551.5" width="2" height="1.6" fill="#000" fill-opacity="0.78"/>
<rect x="684.3" y="1551.5" width="2" height="1.6" fill="#000" fill-opacity="0.78"/>
<rect x="708.3" y="1551.5" width="2" height="1.6" fill="#000" fill-opacity="0.78"/>
<rect x="713.7" y="1550.3" width="2" height="2.8" fill="#000" fill-opacity="0.78"/>
<rect x="721.3" y="1547.3" width="2" height="5.8" fill="#000" fill-opacity="0.78"/>
<rect x="726.7" y="1551.5" width="2" height="1.6" fill="#000" fill-opacity="0.78"/>
<rect x="731" y="1528.4" width="2" height="24.7" fill="#000" fill-opacity="0.78"/>
<rect x="732.3" y="1548.4" width="2.8" height="4.7" fill="#050505"/>
<rect x="770.7" y="1550.3" width="2" height="2.8" fill="#000" fill-opacity="0.78"/>
<rect x="779.3" y="1546.3" width="2" height="6.8" fill="#000" fill-opacity="0.78"/>
<rect x="783.6" y="1550.3" width="2" height="2.8" fill="#000" fill-opacity="0.78"/>
<rect x="789.6" y="1537" width="2" height="16.1" fill="#000" fill-opacity="0.78"/>
<rect x="793.3" y="1549.3" width="2" height="3.8" fill="#000" fill-opacity="0.78"/>
<rect x="798" y="1551.5" width="2" height="1.6" fill="#000" fill-opacity="0.78"/>
<rect x="830.7" y="1550.3" width="2" height="2.8" fill="#000" fill-opacity="0.78"/>
<rect x="839.6" y="1545.3" width="2" height="7.8" fill="#000" fill-opacity="0.78"/>
<rect x="840.9" y="1549.3" width="2.8" height="3.8" fill="#050505"/>
<rect x="846" y="1537.7" width="2" height="15.4" fill="#000" fill-opacity="0.78"/>
<rect x="850.3" y="1548.7" width="2" height="4.4" fill="#000" fill-opacity="0.78"/>
<rect x="854" y="1551.5" width="2" height="1.6" fill="#000" fill-opacity="0.78"/>
<rect x="860.7" y="1551.5" width="2" height="1.6" fill="#000" fill-opacity="0.78"/>
<rect x="888.7" y="1550.3" width="2" height="2.8" fill="#000" fill-opacity="0.78"/>
<rect x="898" y="1545" width="2" height="8.1" fill="#000" fill-opacity="0.78"/>
<rect x="902" y="1548.7" width="2" height="4.4" fill="#000" fill-opacity="0.78"/>
<rect x="906" y="1540.7" width="2" height="12.4" fill="#000" fill-opacity="0.78"/>
<rect x="909.7" y="1548" width="2" height="5.1" fill="#000" fill-opacity="0.78"/>
<rect x="913.3" y="1548.7" width="2" height="4.4" fill="#000" fill-opacity="0.78"/>
<rect x="923.2" y="1551.5" width="2" height="1.6" fill="#000" fill-opacity="0.78"/>
<rect x="950.7" y="1551.5" width="2" height="1.6" fill="#000" fill-opacity="0.78"/>
<rect x="954.8" y="1547.5" width="2" height="5.6" fill="#000" fill-opacity="0.78"/>
<rect x="960.3" y="1550" width="2" height="3.1" fill="#000" fill-opacity="0.78"/>
<rect x="964.3" y="1539.5" width="2" height="13.6" fill="#000" fill-opacity="0.78"/>
<rect x="968.7" y="1549.2" width="2" height="3.9" fill="#000" fill-opacity="0.78"/>
<rect x="1014.8" y="1546.7" width="2" height="6.4" fill="#000" fill-opacity="0.78"/>
<rect x="1019.8" y="1549.2" width="2" height="3.9" fill="#000" fill-opacity="0.78"/>
<rect x="1023.2" y="1539.5" width="2" height="13.6" fill="#000" fill-opacity="0.78"/>
<rect x="1026.5" y="1549.2" width="2" height="3.9" fill="#000" fill-opacity="0.78"/>
<rect x="1054.8" y="1551.5" width="2" height="1.6" fill="#000" fill-opacity="0.78"/>
<rect x="1064" y="1550" width="2" height="3.1" fill="#000" fill-opacity="0.78"/>
<rect x="1073.2" y="1546.7" width="2" height="6.4" fill="#000" fill-opacity="0.78"/>
<rect x="1078.2" y="1549.2" width="2" height="3.9" fill="#000" fill-opacity="0.78"/>
<rect x="1083.2" y="1538.7" width="2" height="14.4" fill="#000" fill-opacity="0.78"/>
<rect x="1086.5" y="1547.5" width="2" height="5.6" fill="#000" fill-opacity="0.78"/>
<rect x="1089.8" y="1551.5" width="2" height="1.6" fill="#000" fill-opacity="0.78"/>
<rect x="1124.8" y="1551.5" width="2" height="1.6" fill="#000" fill-opacity="0.78"/>
<rect x="1132" y="1549.2" width="2" height="3.9" fill="#000" fill-opacity="0.78"/>
<rect x="1136" y="1550" width="2" height="3.1" fill="#000" fill-opacity="0.78"/>
<rect x="1139.8" y="1550" width="2" height="3.1" fill="#000" fill-opacity="0.78"/>
<rect x="1183.2" y="1540.8" width="2" height="12.3" fill="#000" fill-opacity="0.78"/>
<rect x="1184.4" y="1549.2" width="2.8" height="3.9" fill="#050505"/>
<rect x="1189" y="1523.7" width="2" height="29.4" fill="#000" fill-opacity="0.78"/>
<rect x="1194.3" y="1545.3" width="2" height="7.8" fill="#000" fill-opacity="0.78"/>
<rect x="1195.6" y="1548.3" width="2.8" height="4.8" fill="#050505"/>
<rect x="1200.7" y="1551.5" width="2" height="1.6" fill="#000" fill-opacity="0.78"/>
<rect x="1205.7" y="1551.5" width="2" height="1.6" fill="#000" fill-opacity="0.78"/>
<rect x="1237.8" y="1549.7" width="2" height="3.4" fill="#000" fill-opacity="0.78"/>
<rect x="1243.2" y="1551.5" width="2" height="1.6" fill="#000" fill-opacity="0.78"/>
<rect x="1247.3" y="1537" width="2" height="16.1" fill="#000" fill-opacity="0.78"/>
<rect x="1251" y="1548.3" width="2" height="4.8" fill="#000" fill-opacity="0.78"/>
<rect x="1256.5" y="1551.5" width="2" height="1.6" fill="#000" fill-opacity="0.78"/>
<rect x="1260.7" y="1551.5" width="2" height="1.6" fill="#000" fill-opacity="0.78"/>
<rect x="1284.8" y="1551.5" width="2" height="1.6" fill="#000" fill-opacity="0.78"/>
<rect x="1298.2" y="1551.5" width="2" height="1.6" fill="#000" fill-opacity="0.78"/>
<rect x="1305.7" y="1479" width="2" height="74.1" fill="#000" fill-opacity="0.78"/>
<rect x="1309.5" y="1533.3" width="2" height="19.8" fill="#000" fill-opacity="0.78"/>
<rect x="1313.1" y="1549" width="2" height="4.1" fill="#000" fill-opacity="0.78"/>
<rect x="1319" y="1551.5" width="2" height="1.6" fill="#000" fill-opacity="0.78"/>
<rect x="1322.3" y="1551.5" width="2" height="1.6" fill="#000" fill-opacity="0.78"/>
<rect x="1360.3" y="1550.4" width="2" height="2.7" fill="#000" fill-opacity="0.78"/>
<rect x="1366" y="1532.4" width="2" height="20.7" fill="#000" fill-opacity="0.78"/>
<rect x="1369.7" y="1537" width="2" height="16.1" fill="#000" fill-opacity="0.78"/>
<rect x="1373.3" y="1547.3" width="2" height="5.8" fill="#000" fill-opacity="0.78"/>
<path d="M578.6 37.1 L617.5 62 L572.6 79.4" stroke="#222" stroke-width="1.5" fill="none" stroke-linejoin="miter" stroke-linecap="butt"/>
<path d="M700.3 62 L617.5 62 L619.1 98.6 L651 108.7" stroke="#222" stroke-width="1.5" fill="none" stroke-linejoin="miter" stroke-linecap="butt"/>
<path d="M683.7 108.3 L715.3 98" stroke="#222" stroke-width="1.5" fill="none" stroke-linejoin="miter" stroke-linecap="butt"/>
<path d="M705.9 72.7 L705.9 93.3" stroke="#222" stroke-width="1.5" fill="none" stroke-linejoin="miter" stroke-linecap="butt"/>
<path d="M715.3 72.7 L715.3 98" stroke="#222" stroke-width="1.5" fill="none" stroke-linejoin="miter" stroke-linecap="butt"/>
<path d="M715.3 98 L764 114.8 L811.4 97.4 L861 114.8 L909 97.4 L957.5 114.8 L1006 97 L1054.6 113.5 L1102.7 96 L1152.4 112.9 L1200.3 95.3 L1256.3 95.3 L1304.4 113 L1352.6 96 L1401.7 112.9 L1449.9 95.4" stroke="#222" stroke-width="1.5" fill="none" stroke-linejoin="miter" stroke-linecap="butt"/>
<path d="M1200.3 95.3 L1228.1 65.5 L1256.3 95.3" stroke="#222" stroke-width="1.5" fill="none" stroke-linejoin="miter" stroke-linecap="butt"/>
<path d="M1181.3 65.5 V127.6" stroke="#333" stroke-width="1.6" fill="none"/>
<path d="M1169.5 127 H1180.5" stroke="#666" stroke-width="1.2" fill="none"/>
<path d="M1214.1 49.4 V111.1" stroke="#333" stroke-width="1.6" fill="none"/>
<path d="M1198.6 50 H1213.3" stroke="#666" stroke-width="1.2" fill="none"/>
<path d="M1243.3 65.5 V126.9" stroke="#333" stroke-width="1.6" fill="none"/>
<path d="M1229.7 126.3 H1242.5" stroke="#666" stroke-width="1.2" fill="none"/>
<path d="M1332.5 49.4 V111.1" stroke="#333" stroke-width="1.6" fill="none"/>
<path d="M1317.7 50 H1331.7" stroke="#666" stroke-width="1.2" fill="none"/>
<path d="M579.3 579.1 L618.7 603.4 L572.3 620.7" stroke="#222" stroke-width="1.5" fill="none" stroke-linejoin="miter" stroke-linecap="butt"/>
<path d="M701.3 603.4 L618.7 603.4 L619.3 637.7 L651.7 648.7" stroke="#222" stroke-width="1.5" fill="none" stroke-linejoin="miter" stroke-linecap="butt"/>
<path d="M685.3 648.7 L717 637.7" stroke="#222" stroke-width="1.5" fill="none" stroke-linejoin="miter" stroke-linecap="butt"/>
<path d="M707.3 614.3 L707.3 633.3" stroke="#222" stroke-width="1.5" fill="none" stroke-linejoin="miter" stroke-linecap="butt"/>
<path d="M717 614.3 L717 637.7" stroke="#222" stroke-width="1.5" fill="none" stroke-linejoin="miter" stroke-linecap="butt"/>
<path d="M717 637.7 L766.4 654 L815 637.5 L864.5 654 L913.4 637.5 L962 654 L1011.4 636.9 L1060.3 653.8 L1109.4 636.9 L1158.3 652.8 L1207.2 636.9 L1257.2 652.1" stroke="#222" stroke-width="1.5" fill="none" stroke-linejoin="miter" stroke-linecap="butt"/>
<path d="M1257.2 652.1 L1308.6 639.4 L1345.8 664.7 L1318.7 693.9 L1263.5 686.3 Z" stroke="#222" stroke-width="1.5" fill="none" stroke-linejoin="miter" stroke-linecap="butt"/>
<path d="M1258.4 620.9 L1197.1 669" stroke="#222" stroke-width="1.5" fill="none" stroke-linejoin="miter" stroke-linecap="butt"/>
<path d="M575.4 1114.9 L616.5 1139.4 L568.5 1156.6" stroke="#222" stroke-width="1.5" fill="none" stroke-linejoin="miter" stroke-linecap="butt"/>
<path d="M699.3 1139.4 L616.5 1139.4 L616.5 1174.6 L649 1186.7" stroke="#222" stroke-width="1.5" fill="none" stroke-linejoin="miter" stroke-linecap="butt"/>
<path d="M681.7 1185.7 L714.5 1174.7" stroke="#222" stroke-width="1.5" fill="none" stroke-linejoin="miter" stroke-linecap="butt"/>
<path d="M704.1 1150 L704.1 1170" stroke="#222" stroke-width="1.5" fill="none" stroke-linejoin="miter" stroke-linecap="butt"/>
<path d="M714.5 1150 L714.5 1174.7" stroke="#222" stroke-width="1.5" fill="none" stroke-linejoin="miter" stroke-linecap="butt"/>
<path d="M714.5 1174.7 L765 1192 L813 1174.6 L862.5 1192 L912 1174.6 L962 1191 L1011.8 1173.6 L1061 1190.6 L1110 1173.6 L1159.6 1190.6 L1209.2 1173.6 L1258.8 1190 L1308.4 1173.6 L1357.4 1190" stroke="#222" stroke-width="1.5" fill="none" stroke-linejoin="miter" stroke-linecap="butt"/>
<path d="M1357.4 1190 L1409.8 1176.2 L1448.2 1201.8 L1419.4 1231.6 L1364.4 1225.8 Z" stroke="#222" stroke-width="1.5" fill="none" stroke-linejoin="miter" stroke-linecap="butt"/>
<path d="M1359.6 1161.8 L1293.4 1207.2" stroke="#222" stroke-width="1.5" fill="none" stroke-linejoin="miter" stroke-linecap="butt"/>
<g opacity="0.999">
<text transform="translate(421.495 34.59) scale(1.636 1)" x="0 9.112 18.224" y="0" font-size="16.384" font-weight="normal" font-style="normal" stroke-width="0.7">113</text>
<text transform="translate(473.456 88.596) scale(1.745 1)" x="0 8.798 17.596" y="0" font-size="15.819" font-weight="normal" font-style="normal" stroke-width="0.7">126</text>
<text transform="translate(181.952 325.806) scale(1.861 1)" x="0 8.21" y="0" font-size="14.762" font-weight="normal" font-style="normal" stroke-width="0.7">55</text>
<text transform="translate(145.6 425.15) scale(1.932 1)" x="0 8.488" y="0" font-size="15.262" font-weight="normal" font-style="normal" stroke-width="0.7">41</text>
<text transform="translate(243.956 411.304) scale(1.813 1)" x="0 8.326" y="0" font-size="14.972" font-weight="normal" font-style="normal" stroke-width="0.7">69</text>
<text transform="translate(298.465 432.205) scale(1.816 1)" x="0 8.248" y="0" font-size="14.83" font-weight="normal" font-style="normal" stroke-width="0.7">82</text>
<text transform="translate(364.64 422.804) scale(1.875 1)" x="0 8.326" y="0" font-size="14.972" font-weight="normal" font-style="normal" stroke-width="0.7">98</text>
<text transform="translate(530.314 400.504) scale(1.822 1)" x="0 8.326 16.653" y="0" font-size="14.972" font-weight="normal" font-style="normal" stroke-width="0.7">140</text>
<text transform="translate(589.307 431.502) scale(1.794 1)" x="0 8.449 16.898" y="0" font-size="15.192" font-weight="normal" font-style="normal" stroke-width="0.7">154</text>
<text transform="translate(647.712 385.5) scale(1.758 1)" x="0 8.562 17.124" y="0" font-size="15.395" font-weight="normal" font-style="normal" stroke-width="0.7">168</text>
<text transform="translate(765.259 392.502) scale(1.849 1)" x="0 8.405 16.81" y="0" font-size="15.113" font-weight="normal" font-style="normal" stroke-width="0.7">196</text>
<text transform="translate(881.129 421.825) scale(1.664 1)" x="0 9.279 18.559" y="0" font-size="16.685" font-weight="bold" font-style="normal" stroke-width="0.35">224</text>
<text transform="translate(901.785 409.362) scale(1.451 1)" x="0" y="0" font-size="16.26" font-weight="bold" font-style="normal" stroke-width="0.35">*</text>
<text transform="translate(933.942 424.841) scale(1.67 1)" x="0 9.132 18.265" y="0" font-size="16.421" font-weight="bold" font-style="normal" stroke-width="0.35">236</text>
<text transform="translate(952.985 411.762) scale(1.451 1)" x="0" y="0" font-size="16.26" font-weight="bold" font-style="normal" stroke-width="0.35">*</text>
<text transform="translate(992.948 404.498) scale(1.744 1)" x="0 8.641 17.281" y="0" font-size="15.537" font-weight="normal" font-style="normal" stroke-width="0.7">250</text>
<text transform="translate(1049.658 369.1) scale(1.749 1)" x="0 8.562 17.124" y="0" font-size="15.395" font-weight="normal" font-style="normal" stroke-width="0.7">264</text>
<text transform="translate(1109.731 225.664) scale(1.691 1)" x="0 9.151 18.303" y="0" font-size="16.455" font-weight="bold" font-style="normal" stroke-width="0.35">278</text>
<text transform="translate(1128.402 213.222) scale(1.548 1)" x="0" y="0" font-size="15.185" font-weight="bold" font-style="normal" stroke-width="0.35">*</text>
<text transform="translate(1164.717 386.494) scale(1.73 1)" x="0 8.876 17.753" y="0" font-size="15.96" font-weight="normal" font-style="normal" stroke-width="0.7">292</text>
<text transform="translate(1226.565 324.297) scale(1.76 1)" x="0 8.719 17.438" y="0" font-size="15.678" font-weight="normal" font-style="normal" stroke-width="0.7">306</text>
<text transform="translate(1295.061 336.825) scale(1.805 1)" x="0" y="0" font-size="18.678" font-weight="bold" font-style="normal" stroke-width="0.35">M</text>
<text transform="translate(1323.258 329.7) scale(1.855 1)" x="0" y="0" font-size="11.126" font-weight="bold" font-style="normal" stroke-width="0.35">+</text>
<text transform="translate(1287.453 360.641) scale(1.719 1)" x="0 9.132 18.265" y="0" font-size="16.421" font-weight="bold" font-style="normal" stroke-width="0.35">321</text>
<text transform="translate(421.719 574.59) scale(1.616 1)" x="0 9.112 18.224" y="0" font-size="16.384" font-weight="normal" font-style="normal" stroke-width="0.7">113</text>
<text transform="translate(473.727 859.889) scale(1.672 1)" x="0 9.191 18.381" y="0" font-size="16.525" font-weight="normal" font-style="normal" stroke-width="0.7">126</text>
<text transform="translate(145.687 992.35) scale(1.912 1)" x="0 8.65" y="0" font-size="15.553" font-weight="normal" font-style="normal" stroke-width="0.7">41</text>
<text transform="translate(184.819 941.896) scale(1.712 1)" x="0 8.768" y="0" font-size="15.765" font-weight="normal" font-style="normal" stroke-width="0.7">55</text>
<text transform="translate(243.951 953.504) scale(1.826 1)" x="0 8.326" y="0" font-size="14.972" font-weight="normal" font-style="normal" stroke-width="0.7">69</text>
<text transform="translate(298.455 986.202) scale(1.777 1)" x="0 8.405" y="0" font-size="15.113" font-weight="normal" font-style="normal" stroke-width="0.7">82</text>
<text transform="translate(364.647 971.504) scale(1.856 1)" x="0 8.326" y="0" font-size="14.972" font-weight="normal" font-style="normal" stroke-width="0.7">98</text>
<text transform="translate(530.764 979.907) scale(1.822 1)" x="0 8.169 16.339" y="0" font-size="14.689" font-weight="normal" font-style="normal" stroke-width="0.7">140</text>
<text transform="translate(589.636 990.506) scale(1.836 1)" x="0 8.21 16.419" y="0" font-size="14.762" font-weight="normal" font-style="normal" stroke-width="0.7">154</text>
<text transform="translate(648.026 961.8) scale(1.745 1)" x="0 8.562 17.124" y="0" font-size="15.395" font-weight="normal" font-style="normal" stroke-width="0.7">168</text>
<text transform="translate(765.692 988.202) scale(1.82 1)" x="0 8.405 16.81" y="0" font-size="15.113" font-weight="normal" font-style="normal" stroke-width="0.7">196</text>
<text transform="translate(880.938 991.65) scale(1.78 1)" x="0 8.602 17.204" y="0" font-size="15.467" font-weight="normal" font-style="normal" stroke-width="0.7">224</text>
<text transform="translate(947.35 988.345) scale(1.712 1)" x="0 8.897 17.794" y="0" font-size="15.998" font-weight="bold" font-style="normal" stroke-width="0.35">238</text>
<text transform="translate(965.393 975.592) scale(1.498 1)" x="0" y="0" font-size="15.723" font-weight="bold" font-style="normal" stroke-width="0.35">*</text>
<text transform="translate(1049.546 977.498) scale(1.749 1)" x="0 8.641 17.281" y="0" font-size="15.537" font-weight="normal" font-style="normal" stroke-width="0.7">264</text>
<text transform="translate(1109.553 992.004) scale(1.854 1)" x="0 8.326 16.653" y="0" font-size="14.972" font-weight="normal" font-style="normal" stroke-width="0.7">278</text>
<text transform="translate(1165.044 926.198) scale(1.752 1)" x="0 8.641 17.281" y="0" font-size="15.537" font-weight="normal" font-style="normal" stroke-width="0.7">292</text>
<text transform="translate(1241.089 965.625) scale(1.846 1)" x="0" y="0" font-size="18.096" font-weight="bold" font-style="normal" stroke-width="0.35">M</text>
<text transform="translate(1267.446 959.931) scale(1.795 1)" x="0" y="0" font-size="11.52" font-weight="bold" font-style="normal" stroke-width="0.35">+</text>
<text transform="translate(1228.876 989.949) scale(1.744 1)" x="0 8.74 17.481" y="0" font-size="15.716" font-weight="bold" font-style="normal" stroke-width="0.35">307</text>
<text transform="translate(421.719 1114.59) scale(1.616 1)" x="0 9.112 18.224" y="0" font-size="16.384" font-weight="normal" font-style="normal" stroke-width="0.7">113</text>
<text transform="translate(473.75 1393.294) scale(1.73 1)" x="0 8.876 17.753" y="0" font-size="15.96" font-weight="normal" font-style="normal" stroke-width="0.7">126</text>
<text transform="translate(145.687 1529.35) scale(1.912 1)" x="0 8.65" y="0" font-size="15.553" font-weight="normal" font-style="normal" stroke-width="0.7">41</text>
<text transform="translate(184.867 1479.107) scale(1.84 1)" x="0 8.13" y="0" font-size="14.618" font-weight="normal" font-style="normal" stroke-width="0.7">55</text>
<text transform="translate(243.951 1491.504) scale(1.826 1)" x="0 8.326" y="0" font-size="14.972" font-weight="normal" font-style="normal" stroke-width="0.7">69</text>
<text transform="translate(298.461 1523.504) scale(1.793 1)" x="0 8.326" y="0" font-size="14.972" font-weight="normal" font-style="normal" stroke-width="0.7">82</text>
<text transform="translate(365.056 1517.804) scale(1.831 1)" x="0 8.326" y="0" font-size="14.972" font-weight="normal" font-style="normal" stroke-width="0.7">98</text>
<text transform="translate(530.332 1517.804) scale(1.805 1)" x="0 8.326 16.653" y="0" font-size="14.972" font-weight="normal" font-style="normal" stroke-width="0.7">140</text>
<text transform="translate(589.623 1528.2) scale(1.757 1)" x="0 8.529 17.057" y="0" font-size="15.335" font-weight="normal" font-style="normal" stroke-width="0.7">154</text>
<text transform="translate(648.045 1501.504) scale(1.793 1)" x="0 8.326 16.653" y="0" font-size="14.972" font-weight="normal" font-style="normal" stroke-width="0.7">168</text>
<text transform="translate(710.645 1518.793) scale(1.714 1)" x="0 8.955 17.91" y="0" font-size="16.102" font-weight="normal" font-style="normal" stroke-width="0.7">182</text>
<text transform="translate(825.949 1524.202) scale(1.832 1)" x="0 8.405 16.81" y="0" font-size="15.113" font-weight="normal" font-style="normal" stroke-width="0.7">210</text>
<text transform="translate(947.579 1524.807) scale(1.855 1)" x="0 8.169 16.339" y="0" font-size="14.689" font-weight="normal" font-style="normal" stroke-width="0.7">238</text>
<text transform="translate(1063.159 1524.977) scale(1.825 1)" x="0 8.444 16.889" y="0" font-size="15.183" font-weight="bold" font-style="normal" stroke-width="0.35">266</text>
<text transform="translate(1081.593 1512.492) scale(1.498 1)" x="0" y="0" font-size="15.723" font-weight="bold" font-style="normal" stroke-width="0.35">*</text>
<text transform="translate(1167.251 1513.205) scale(1.891 1)" x="0 8.248 16.496" y="0" font-size="14.83" font-weight="normal" font-style="normal" stroke-width="0.7">292</text>
<text transform="translate(1228.801 1527.005) scale(1.857 1)" x="0 8.248 16.496" y="0" font-size="14.83" font-weight="normal" font-style="normal" stroke-width="0.7">306</text>
<text transform="translate(1282.897 1469.202) scale(1.786 1)" x="0 8.405 16.81" y="0" font-size="15.113" font-weight="normal" font-style="normal" stroke-width="0.7">320</text>
<text transform="translate(1354.28 1500.525) scale(1.969 1)" x="0" y="0" font-size="17.951" font-weight="bold" font-style="normal" stroke-width="0.35">M</text>
<text transform="translate(1382.817 1494.462) scale(1.486 1)" x="0" y="0" font-size="11.914" font-weight="bold" font-style="normal" stroke-width="0.35">+</text>
<text transform="translate(1344.975 1524.345) scale(1.693 1)" x="0 8.897 17.794" y="0" font-size="15.998" font-weight="bold" font-style="normal" stroke-width="0.35">335</text>
<text transform="translate(171.431 101.554) scale(1.649 1)" x="0 18.483 33.894 49.305 64.717 72.416" y="0" font-size="27.711" font-weight="bold" font-style="normal" stroke-width="0.35">Peak 5</text>
<text transform="translate(171.436 641.554) scale(1.647 1)" x="0 18.483 33.894 49.305 64.717 72.416" y="0" font-size="27.711" font-weight="bold" font-style="normal" stroke-width="0.35">Peak 6</text>
<text transform="translate(171.641 1180.562) scale(1.699 1)" x="0 17.938 32.895 47.852 62.809 70.281 85.238" y="0" font-size="26.894" font-weight="bold" font-style="normal" stroke-width="0.35">Peak 12</text>
<text transform="translate(706.514 69.15) scale(1.097 1)" x="0" y="0" font-size="20.785" font-weight="normal" font-style="normal" stroke-width="0.7">N</text>
<text transform="translate(658.327 122.147) scale(1.062 1)" x="0" y="0" font-size="20.762" font-weight="normal" font-style="normal" stroke-width="0.7">O</text>
<text transform="translate(708.224 610.65) scale(1.119 1)" x="0" y="0" font-size="20.349" font-weight="normal" font-style="normal" stroke-width="0.7">N</text>
<text transform="translate(660.143 662.453) scale(1.084 1)" x="0" y="0" font-size="20.198" font-weight="normal" font-style="normal" stroke-width="0.7">O</text>
<text transform="translate(705.462 1146.95) scale(1.078 1)" x="0" y="0" font-size="21.657" font-weight="normal" font-style="normal" stroke-width="0.7">N</text>
<text transform="translate(656.519 1199.443) scale(1.042 1)" x="0" y="0" font-size="21.186" font-weight="normal" font-style="normal" stroke-width="0.7">O</text>
<text transform="translate(1171.34 43.05) scale(1.807 1)" x="0 8.662 17.324" y="0" font-size="15.575" font-weight="bold" font-style="normal" stroke-width="0.35">236</text>
<text transform="translate(1289.852 43.073) scale(1.77 1)" x="0 8.68 17.36" y="0" font-size="15.607" font-weight="bold" font-style="normal" stroke-width="0.35">278</text>
<text transform="translate(1141.058 147.025) scale(1.719 1)" x="0 8.801 17.603" y="0" font-size="15.825" font-weight="bold" font-style="normal" stroke-width="0.35">224</text>
<text transform="translate(1204.378 144.982) scale(1.874 1)" x="0 8.13 16.26" y="0" font-size="14.618" font-weight="bold" font-style="normal" stroke-width="0.35">250</text>
<text transform="translate(1257.576 614.463) scale(1.905 1)" x="0 9.23" y="0" font-size="16.596" font-weight="bold" font-style="normal" stroke-width="0.35">69</text>
<text transform="translate(1159.281 687.93) scale(1.911 1)" x="0 9.681 19.362" y="0" font-size="17.407" font-weight="bold" font-style="normal" stroke-width="0.35">238</text>
<text transform="translate(1353.3 1153.431) scale(1.632 1)" x="0 11.037" y="0" font-size="19.844" font-weight="bold" font-style="normal" stroke-width="0.35">69</text>
<text transform="translate(1255.339 1227.031) scale(1.678 1)" x="0 11.037 22.073" y="0" font-size="19.844" font-weight="bold" font-style="normal" stroke-width="0.35">266</text>
<text transform="translate(68.53 49.468) scale(1.705 1)" x="0 8.916 17.831" y="0" font-size="16.031" font-weight="bold" font-style="normal" stroke-width="0.35">100</text>
<text transform="translate(87.075 134.686) scale(1.907 1)" x="0 7.894" y="0" font-size="14.195" font-weight="bold" font-style="normal" stroke-width="0.35">80</text>
<text transform="translate(86.911 220.674) scale(1.761 1)" x="0 8.601" y="0" font-size="15.466" font-weight="bold" font-style="normal" stroke-width="0.35">60</text>
<text transform="translate(87.487 306.618) scale(1.667 1)" x="0 8.916" y="0" font-size="16.031" font-weight="bold" font-style="normal" stroke-width="0.35">40</text>
<text transform="translate(86.954 392.118) scale(1.697 1)" x="0 8.916" y="0" font-size="16.031" font-weight="bold" font-style="normal" stroke-width="0.35">20</text>
<text transform="translate(103.229 478.218) scale(1.68 1)" x="0" y="0" font-size="16.031" font-weight="bold" font-style="normal" stroke-width="0.35">0</text>
<text transform="translate(363.206 500.667) scale(1.713 1)" x="0 8.994 17.988" y="0" font-size="16.172" font-weight="bold" font-style="normal" stroke-width="0.35">100</text>
<text transform="translate(787.343 500.667) scale(1.704 1)" x="0 8.994 17.988" y="0" font-size="16.172" font-weight="bold" font-style="normal" stroke-width="0.35">200</text>
<text transform="translate(1204.065 500.644) scale(1.715 1)" x="0 8.976 17.951" y="0" font-size="16.139" font-weight="bold" font-style="normal" stroke-width="0.35">300</text>
<text transform="translate(1427.592 500.252) scale(1.785 1)" x="0 13.254 17.396" y="0" font-size="14.907" font-weight="bold" font-style="italic" stroke-width="0.5">m/z</text>
<text transform="translate(49.77 338.048) rotate(-90) scale(0.596 1)" x="0 26.032 48.05 70.069 92.088 114.106 134.154 156.172 176.22 196.267 206.282 218.286 250.337" y="0" font-size="36.047" font-weight="bold" font-style="normal" stroke-width="1.3">Abundance (%)</text>
<text transform="translate(68.53 589.468) scale(1.705 1)" x="0 8.916 17.831" y="0" font-size="16.031" font-weight="bold" font-style="normal" stroke-width="0.35">100</text>
<text transform="translate(87.075 674.686) scale(1.907 1)" x="0 7.894" y="0" font-size="14.195" font-weight="bold" font-style="normal" stroke-width="0.35">80</text>
<text transform="translate(86.911 760.674) scale(1.761 1)" x="0 8.601" y="0" font-size="15.466" font-weight="bold" font-style="normal" stroke-width="0.35">60</text>
<text transform="translate(87.482 847.266) scale(1.638 1)" x="0 9.073" y="0" font-size="16.313" font-weight="bold" font-style="normal" stroke-width="0.35">40</text>
<text transform="translate(86.956 932.97) scale(1.712 1)" x="0 8.837" y="0" font-size="15.89" font-weight="bold" font-style="normal" stroke-width="0.35">20</text>
<text transform="translate(103.223 1018.166) scale(1.653 1)" x="0" y="0" font-size="16.313" font-weight="bold" font-style="normal" stroke-width="0.35">0</text>
<text transform="translate(363.206 1040.667) scale(1.713 1)" x="0 8.994 17.988" y="0" font-size="16.172" font-weight="bold" font-style="normal" stroke-width="0.35">100</text>
<text transform="translate(787.343 1040.667) scale(1.704 1)" x="0 8.994 17.988" y="0" font-size="16.172" font-weight="bold" font-style="normal" stroke-width="0.35">200</text>
<text transform="translate(1204.065 1040.644) scale(1.715 1)" x="0 8.976 17.951" y="0" font-size="16.139" font-weight="bold" font-style="normal" stroke-width="0.35">300</text>
<text transform="translate(1427.592 1040.252) scale(1.785 1)" x="0 13.254 17.396" y="0" font-size="14.907" font-weight="bold" font-style="italic" stroke-width="0.5">m/z</text>
<text transform="translate(49.77 877.648) rotate(-90) scale(0.596 1)" x="0 26.032 48.05 70.069 92.088 114.106 134.154 156.172 176.22 196.267 206.282 218.286 250.337" y="0" font-size="36.047" font-weight="bold" font-style="normal" stroke-width="1.3">Abundance (%)</text>
<text transform="translate(68.533 1129.87) scale(1.72 1)" x="0 8.837 17.674" y="0" font-size="15.89" font-weight="bold" font-style="normal" stroke-width="0.35">100</text>
<text transform="translate(87.035 1214.818) scale(1.693 1)" x="0 8.916" y="0" font-size="16.031" font-weight="bold" font-style="normal" stroke-width="0.35">80</text>
<text transform="translate(86.899 1300.018) scale(1.7 1)" x="0 8.916" y="0" font-size="16.031" font-weight="bold" font-style="normal" stroke-width="0.35">60</text>
<text transform="translate(87.487 1385.218) scale(1.667 1)" x="0 8.916" y="0" font-size="16.031" font-weight="bold" font-style="normal" stroke-width="0.35">40</text>
<text transform="translate(86.943 1470.463) scale(1.641 1)" x="0 9.23" y="0" font-size="16.596" font-weight="bold" font-style="normal" stroke-width="0.35">20</text>
<text transform="translate(103.232 1554.77) scale(1.695 1)" x="0" y="0" font-size="15.89" font-weight="bold" font-style="normal" stroke-width="0.35">0</text>
<text transform="translate(363.206 1577.467) scale(1.713 1)" x="0 8.994 17.988" y="0" font-size="16.172" font-weight="bold" font-style="normal" stroke-width="0.35">100</text>
<text transform="translate(787.343 1577.467) scale(1.704 1)" x="0 8.994 17.988" y="0" font-size="16.172" font-weight="bold" font-style="normal" stroke-width="0.35">200</text>
<text transform="translate(1204.065 1577.444) scale(1.715 1)" x="0 8.976 17.951" y="0" font-size="16.139" font-weight="bold" font-style="normal" stroke-width="0.35">300</text>
<text transform="translate(1427.592 1577.252) scale(1.785 1)" x="0 13.254 17.396" y="0" font-size="14.907" font-weight="bold" font-style="italic" stroke-width="0.5">m/z</text>
<text transform="translate(49.77 1415.448) rotate(-90) scale(0.596 1)" x="0 26.032 48.05 70.069 92.088 114.106 134.154 156.172 176.22 196.267 206.282 218.286 250.337" y="0" font-size="36.047" font-weight="bold" font-style="normal" stroke-width="1.3">Abundance (%)</text>
</g>
<rect x="422" y="32" width="5.611" height="4" fill="#fff"/>
<rect x="431.224" y="32" width="4.776" height="4" fill="#fff"/>
<rect x="437" y="32" width="5.514" height="4" fill="#fff"/>
<rect x="446.128" y="32" width="4.872" height="4" fill="#fff"/>
<rect x="474" y="86" width="5.735" height="4" fill="#fff"/>
<rect x="483.496" y="86" width="5.504" height="4" fill="#fff"/>
<rect x="163" y="423" width="5.691" height="4" fill="#fff"/>
<rect x="172.75" y="423" width="5.25" height="4" fill="#fff"/>
<rect x="531" y="398" width="5.486" height="4" fill="#fff"/>
<rect x="540.272" y="398" width="5.728" height="4" fill="#fff"/>
<rect x="590" y="429" width="5.481" height="4" fill="#fff"/>
<rect x="599.245" y="429" width="5.755" height="4" fill="#fff"/>
<rect x="648" y="383" width="5.852" height="4" fill="#fff"/>
<rect x="657.574" y="383" width="5.426" height="4" fill="#fff"/>
<rect x="766" y="390" width="5.589" height="4" fill="#fff"/>
<rect x="775.453" y="390" width="5.547" height="4" fill="#fff"/>
<rect x="1320" y="358" width="5.077" height="4" fill="#fff"/>
<rect x="1329.65" y="358" width="5.35" height="4" fill="#fff"/>
<rect x="422" y="572" width="5.762" height="4" fill="#fff"/>
<rect x="431.333" y="572" width="5.667" height="4" fill="#fff"/>
<rect x="437" y="572" width="5.488" height="4" fill="#fff"/>
<rect x="446.059" y="572" width="4.941" height="4" fill="#fff"/>
<rect x="474" y="858" width="6.04" height="3" fill="#fff"/>
<rect x="483.753" y="858" width="5.247" height="3" fill="#fff"/>
<rect x="163" y="990" width="5.983" height="4" fill="#fff"/>
<rect x="173.05" y="990" width="5.95" height="4" fill="#fff"/>
<rect x="531" y="978" width="5.805" height="3" fill="#fff"/>
<rect x="540.545" y="978" width="5.455" height="3" fill="#fff"/>
<rect x="590" y="988" width="5.758" height="4" fill="#fff"/>
<rect x="599.538" y="988" width="5.462" height="4" fill="#fff"/>
<rect x="649" y="960" width="5.122" height="3" fill="#fff"/>
<rect x="657.819" y="960" width="5.181" height="3" fill="#fff"/>
<rect x="766" y="986" width="5.92" height="4" fill="#fff"/>
<rect x="775.724" y="986" width="5.276" height="4" fill="#fff"/>
<rect x="422" y="1112" width="5.762" height="4" fill="#fff"/>
<rect x="431.333" y="1112" width="5.667" height="4" fill="#fff"/>
<rect x="437" y="1112" width="5.488" height="4" fill="#fff"/>
<rect x="446.059" y="1112" width="4.941" height="4" fill="#fff"/>
<rect x="474" y="1391" width="6.036" height="4" fill="#fff"/>
<rect x="483.787" y="1391" width="5.213" height="4" fill="#fff"/>
<rect x="163" y="1527" width="5.983" height="4" fill="#fff"/>
<rect x="173.05" y="1527" width="5.95" height="4" fill="#fff"/>
<rect x="531" y="1516" width="5.446" height="3" fill="#fff"/>
<rect x="540.199" y="1516" width="4.801" height="3" fill="#fff"/>
<rect x="590" y="1526" width="5.733" height="4" fill="#fff"/>
<rect x="599.444" y="1526" width="5.556" height="4" fill="#fff"/>
<rect x="649" y="1499" width="5.119" height="4" fill="#fff"/>
<rect x="657.847" y="1499" width="5.153" height="4" fill="#fff"/>
<rect x="711" y="1517" width="5.935" height="3" fill="#fff"/>
<rect x="720.674" y="1517" width="5.326" height="3" fill="#fff"/>
<rect x="842" y="1522" width="5.617" height="4" fill="#fff"/>
<rect x="851.446" y="1522" width="5.554" height="4" fill="#fff"/>
<rect x="293" y="1177" width="8.335" height="5" fill="#fff"/>
<rect x="308.297" y="1177" width="7.703" height="5" fill="#fff"/>
<rect x="69" y="47" width="5.56" height="4" fill="#fff"/>
<rect x="79.006" y="47" width="4.994" height="4" fill="#fff"/>
<rect x="364" y="498" width="5.323" height="4" fill="#fff"/>
<rect x="373.825" y="498" width="5.175" height="4" fill="#fff"/>
<rect x="69" y="587" width="5.56" height="4" fill="#fff"/>
<rect x="79.006" y="587" width="4.994" height="4" fill="#fff"/>
<rect x="364" y="1038" width="5.323" height="4" fill="#fff"/>
<rect x="373.825" y="1038" width="5.175" height="4" fill="#fff"/>
<rect x="69" y="1127" width="5.559" height="4" fill="#fff"/>
<rect x="79.01" y="1127" width="4.99" height="4" fill="#fff"/>
<rect x="364" y="1575" width="5.323" height="4" fill="#fff"/>
<rect x="373.825" y="1575" width="5.175" height="4" fill="#fff"/>
</svg>
</body></html>
